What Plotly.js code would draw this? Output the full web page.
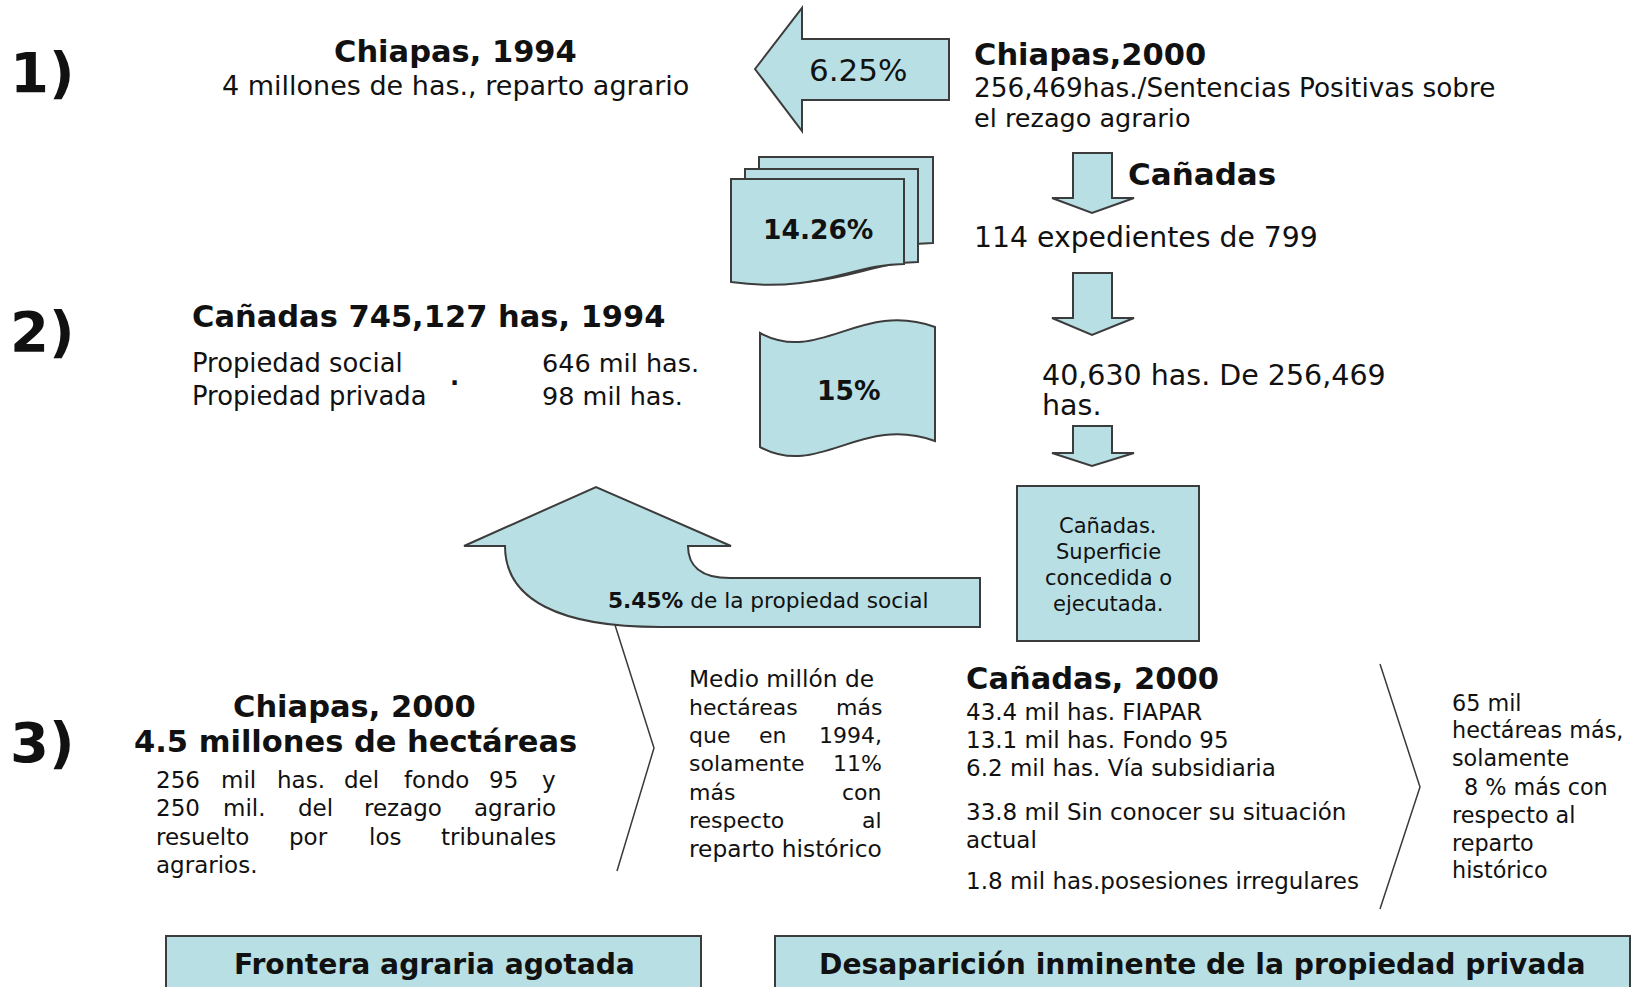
<!DOCTYPE html>
<html>
<head>
<meta charset="utf-8">
<script src="https://cdn.plot.ly/plotly-3.0.1.min.js"></script>
<style>html,body{margin:0;padding:0;background:#fff;}#chart{width:1649px;height:987px;}</style>
</head>
<body>
<div id="chart"></div>
<script>
// ---------- content (texts and values) ----------
const sectionLabels = ['1)', '2)', '3)'];
const shareLabels = ['6.25%', '14.26%', '15%'];
const row1Titles = ['Chiapas, 1994', 'Chiapas,2000'];
const row1Lines = ['4 millones de has., reparto agrario', '256,469has./Sentencias Positivas sobre', 'el rezago agrario'];
const flowLines = ['Cañadas', '114 expedientes de 799', '40,630 has. De 256,469', 'has.'];
const row2Title = 'Cañadas 745,127 has, 1994';
const propertyNames = ['Propiedad social', 'Propiedad privada'];
const propertyValues = ['646 mil has.', '98 mil has.'];
const socialShare = ['5.45%', 'de la propiedad social'];
const boxLines = ['Cañadas.', 'Superficie', 'concedida o', 'ejecutada.'];
const row3Titles = ['Chiapas, 2000', '4.5 millones de hectáreas'];
const chiapasParagraph = [
  ['256', 'mil', 'has.', 'del', 'fondo', '95', 'y'],
  ['250', 'mil.', 'del', 'rezago', 'agrario'],
  ['resuelto', 'por', 'los', 'tribunales'],
  ['agrarios.']
];
const halfMillionParagraph = [
  ['Medio millón de'],
  ['hectáreas', 'más'],
  ['que', 'en', '1994,'],
  ['solamente', '11%'],
  ['más', 'con'],
  ['respecto', 'al'],
  ['reparto histórico']
];
const canadas2000Title = 'Cañadas, 2000';
const canadas2000Lines = ['43.4 mil has. FIAPAR', '13.1 mil has. Fondo 95', '6.2 mil has. Vía subsidiaria',
  '33.8 mil Sin conocer su situación', 'actual', '1.8 mil has.posesiones irregulares'];
const sixtyFiveParagraph = ['65 mil', 'hectáreas más,', 'solamente', '8 % más con', 'respecto al', 'reparto', 'histórico'];
const conclusions = ['Frontera agraria agotada', 'Desaparición inminente de la propiedad privada'];

// ---------- styles ----------
const FILL = '#b8dfe4';
const EDGE = '#3c3c3c';
const INK = '#111111';
const FONT = 'DejaVu Sans';
const HEAD = 30.5;

const shapes = [];
const annotations = [];
function poly(path) {
  shapes.push({type: 'path', xref: 'x', yref: 'y', path: path,
    fillcolor: FILL, line: {color: EDGE, width: 2}, layer: 'above'});
}
function rect(x0, y0, x1, y1) {
  shapes.push({type: 'rect', xref: 'x', yref: 'y', x0: x0, y0: y0, x1: x1, y1: y1,
    fillcolor: FILL, line: {color: EDGE, width: 2}, layer: 'above'});
}
function line(pts) {
  shapes.push({type: 'path', xref: 'x', yref: 'y', path: 'M ' + pts.map(p => p.join(',')).join(' L '),
    line: {color: '#3a3a3a', width: 1.5}, layer: 'above'});
}
function txt(x, y, text, size, opts) {
  annotations.push(Object.assign({x: x, y: y, xref: 'x', yref: 'y', text: text, showarrow: false,
    xanchor: 'left', yanchor: 'middle', font: {family: FONT, size: size, color: INK}}, opts || {}));
}
function doc(x0, x1, top, yR) {
  const w = x1 - x0, yL = yR + 18;
  poly(`M ${x0},${top} L ${x1},${top} L ${x1},${yR} C ${x1 - 0.3 * w},${yR} ${x0 + 0.5 * w},${yL + 12} ${x0},${yL} Z`);
}
function downArrow(top, head, tip) {
  poly(`M 1073,${top} L 1112,${top} L 1112,${head} L 1134,${head} L 1092,${tip} L 1052,${head} L 1073,${head} Z`);
}

// ---------- shapes ----------
poly('M 755,69 L 802,8 L 802,39 L 949,39 L 949,100 L 802,100 L 802,131 Z');
doc(759, 933, 157, 243);
doc(745, 918, 169, 262);
doc(731, 904, 179, 264);
poly('M 760,333 C 820,365 860,300 935,327 L 935,441 C 860,414 820,479 760,447 Z');
downArrow(153, 198, 213);
downArrow(273, 318, 335);
downArrow(426, 453, 466);
poly('M 505,546 C 505,600 560,627 660,627 L 980,627 L 980,578 L 730,578 C 700,578 688,565 688,546 L 731,546 L 596,487 L 464,546 Z');
rect(1017, 486, 1199, 641);
line([[615, 625], [654, 748], [617, 871]]);
line([[1380, 664], [1420, 787], [1380, 909]]);
rect(166, 936, 701, 995);
rect(775, 936, 1630, 995);

// ---------- texts ----------
const sectionY = [72, 331, 742];
sectionLabels.forEach((s, i) => txt(8, sectionY[i], '<b>' + s + '</b>', 56));

txt(455, 51, '<b>' + row1Titles[0] + '</b>', HEAD, {xanchor: 'center'});
txt(455, 85, row1Lines[0], 27, {xanchor: 'center'});
txt(858, 70, shareLabels[0], 31, {xanchor: 'center'});
txt(972, 54, '<b>' + row1Titles[1] + '</b>', HEAD);
txt(972, 88, row1Lines[1], 26.3);
txt(972, 118, row1Lines[2], 25.5);

txt(1126, 174, '<b>' + flowLines[0] + '</b>', 31);
txt(972, 237, flowLines[1], 28.3);
txt(1040, 375, flowLines[2], 28.5);
txt(1040, 405, flowLines[3], 28.5);

txt(818, 229, '<b>' + shareLabels[1] + '</b>', 26.5, {xanchor: 'center'});
txt(848, 390, '<b>' + shareLabels[2] + '</b>', 26.5, {xanchor: 'center'});

txt(190, 316, '<b>' + row2Title + '</b>', HEAD);
txt(190, 363, propertyNames[0], 25.8);
txt(190, 396, propertyNames[1], 25.8);
txt(448, 377, '<b>.</b>', 24);
txt(540, 363, propertyValues[0], 25.5);
txt(540, 396, propertyValues[1], 25.5);

txt(606, 600, '<b>' + socialShare[0] + '</b> ' + socialShare[1], 21.7);

const boxY = [526, 552, 578, 604];
boxLines.forEach((s, i) => txt(1108, boxY[i], s, 21, {xanchor: 'center'}));

txt(354, 706, '<b>' + row3Titles[0] + '</b>', HEAD, {xanchor: 'center'});
txt(355, 741, '<b>' + row3Titles[1] + '</b>', HEAD, {xanchor: 'center'});

// justified paragraph (word positions)
const paraY = [780, 808, 837, 865];
const paraX = [
  [154, 219, 275, 342, 402, 487],
  [154, 221, 296, 362],
  [154, 287, 367],
  [154]
];
chiapasParagraph.forEach((words, li) => {
  const last = words.length - 1;
  words.forEach((w, wi) => {
    if (wi === last && li < chiapasParagraph.length - 1) txt(558, paraY[li], w, 23, {xanchor: 'right'});
    else txt(paraX[li][wi], paraY[li], w, 23);
  });
});

const midY = [678, 707, 735, 763, 792, 820, 848];
halfMillionParagraph.forEach((words, li) => {
  if (words.length === 1) { txt(687, midY[li], words[0], 23.3); return; }
  txt(687, midY[li], words[0], 22);
  txt(884, midY[li], words[words.length - 1], 22, {xanchor: 'right'});
  if (words.length === 3) txt(757, midY[li], words[1], 22);
});

txt(964, 678, '<b>' + canadas2000Title + '</b>', HEAD);
const canY = [712, 740, 768, 812, 840, 881];
canadas2000Lines.forEach((s, i) => txt(964, canY[i], s, 23));

const rightY = [703, 730, 758, 787, 815, 843, 870];
sixtyFiveParagraph.forEach((s, i) => txt(i === 3 ? 1462 : 1450, rightY[i], s, 22.3));

txt(434, 964, '<b>' + conclusions[0] + '</b>', 28.2, {xanchor: 'center'});
txt(1202, 964, '<b>' + conclusions[1] + '</b>', 28.2, {xanchor: 'center'});

const layout = {
  width: 1649, height: 987,
  margin: {l: 0, r: 0, t: 0, b: 0},
  paper_bgcolor: '#ffffff', plot_bgcolor: '#ffffff',
  showlegend: false,
  xaxis: {range: [0, 1649], visible: false, fixedrange: true},
  yaxis: {range: [987, 0], visible: false, fixedrange: true},
  shapes: shapes,
  annotations: annotations
};
Plotly.newPlot('chart', [{x: [0], y: [0], mode: 'markers', marker: {opacity: 0}, hoverinfo: 'skip'}], layout, {staticPlot: true});
</script>
</body>
</html>
